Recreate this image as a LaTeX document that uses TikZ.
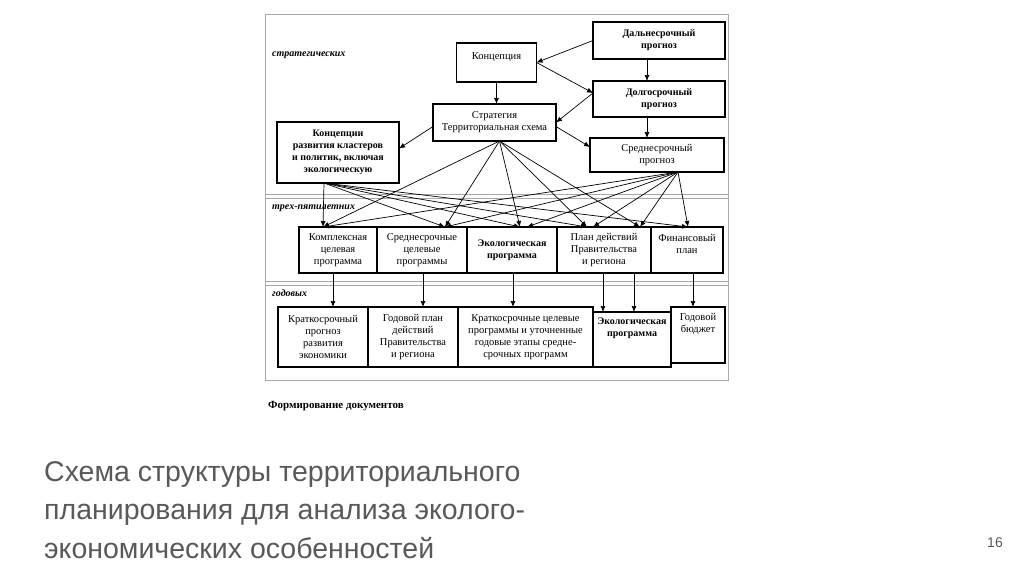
\documentclass[tikz,border=0pt]{standalone}
\usepackage{fontspec}
\setmainfont{Liberation Serif}
\newfontfamily\slidefont{Liberation Sans}
\usetikzlibrary{arrows.meta, positioning}
\definecolor{framegray}{HTML}{A8A8A8}
\definecolor{titlegray}{HTML}{595959}
\tikzset{
  box/.style={
    rectangle, draw, line width=1.2pt, outer sep=0pt, inner sep=1pt,
    align=center, font=\fontsize{10.5}{12}\selectfont
  },
  bbox/.style={
    box, font=\fontsize{10}{12}\selectfont\bfseries
  },
  arr/.style={-{Latex[length=6pt,width=5pt]}, line width=0.7pt},
  tierlabel/.style={
    anchor=west, inner sep=0pt,
    font=\fontsize{10}{11}\selectfont\bfseries\itshape
  }
}

\begin{document}
\begin{tikzpicture}[x=1pt, y=-1pt]
  \useasboundingbox (0,0) rectangle (1024,574);
  % frame and tiers
  \draw[framegray, line width=0.8pt] (265,14) rectangle (728,380);
  \foreach \y in {194,198,281,285}
    \draw[framegray, line width=0.8pt] (265,\y) -- (728,\y);
  \node[tierlabel] (lstrat) at (272,55) {стратегических};
  \node[tierlabel] (lmid) at (272,208) {трех-пятилетних};
  \node[tierlabel] (lyear) at (272,293) {годовых};

  % strategic tier
  \node[box, minimum width=80pt, minimum height=39pt] (konc)
    at (496.5,62.5) {Концепция\\\mbox{}};
  \node[bbox, minimum width=132pt, minimum height=37pt] (dal)
    at (659,40.5) {Дальнесрочный\\прогноз};
  \node[bbox, minimum width=132pt, minimum height=36pt,
        below=22pt of dal] (dolg) {Долгосрочный\\прогноз};
  \node[box, minimum width=123pt, minimum height=37pt] (strat)
    at (494.5,122.5) {Стратегия\\Территориальная схема};
  \node[box, minimum width=134pt, minimum height=34pt] (sred)
    at (657,155) {Среднесрочный\\прогноз};
  \node[bbox, minimum width=122pt, minimum height=61pt] (klast)
    at (338,152.5) {Концепции\\развития кластеров\\и политик, включая\\экологическую};

  % three-five year tier
  \node[box, minimum width=78pt, minimum height=46pt] (kompl)
    at (338,250) {Комплексная\\целевая\\программа};
  \node[box, minimum width=90pt, minimum height=46pt,
        right=0pt of kompl] (srcel) {Среднесрочные\\целевые\\программы};
  \node[bbox, minimum width=90pt, minimum height=46pt,
        right=0pt of srcel] (ekop) {Экологическая\\программа};
  \node[box, minimum width=94pt, minimum height=46pt,
        right=0pt of ekop] (plan) {План действий\\Правительства\\и региона};
  \node[box, minimum width=72pt, minimum height=46pt,
        right=0pt of plan] (fin) {Финансовый\\план\\\mbox{}};

  % annual tier
  \node[box, minimum width=90pt, minimum height=60pt] (kprog)
    at (323,337) {Краткосрочный\\прогноз\\развития\\экономики};
  \node[box, minimum width=90pt, minimum height=60pt,
        right=0pt of kprog] (gplan) {Годовой план\\действий\\Правительства\\и региона};
  \node[box, minimum width=135pt, minimum height=60pt,
        right=0pt of gplan] (kcel)
    {Краткосрочные целевые\\программы и уточненные\\годовые этапы средне-\\срочных программ};
  \node[bbox, minimum width=78pt, minimum height=55pt, anchor=north west] (ekol)
    at ([yshift=-5pt]kcel.north east) {Экологическая\\программа\\\mbox{}\\\mbox{}};
  \node[box, minimum width=54pt, minimum height=56pt, anchor=north west] (gbud)
    at (kcel.north east -| ekol.east) {Годовой\\бюджет\\\mbox{}\\\mbox{}};

  \node[anchor=west, inner sep=0pt, font=\fontsize{11}{13}\selectfont\bfseries]
    (formdoc) at (268,406) {Формирование документов};

  % strategic links
  \draw[arr] (dal.west) -- (konc.east);
  \draw[arr] ([xshift=-12pt]dal.south) -- ([xshift=-12pt]dolg.north);
  \draw[arr] (konc.east) -- ([yshift=6pt]dolg.west);
  \draw[arr] (konc.south) -- (konc.south |- strat.north);
  \draw[arr] ([yshift=6pt]dolg.west) -- (strat.east);
  \draw[arr] ([xshift=-12pt]dolg.south) -- ([xshift=-10pt]sred.north);
  \draw[arr] ([yshift=-4pt]strat.west) -- ([yshift=4pt]klast.east);
  \draw[arr] ([yshift=-4pt]strat.east) -- ([yshift=8pt]sred.west);

  % fan into the three-five year tier
  \coordinate (kS) at ([xshift=-14pt]klast.south);
  \coordinate (sS) at ([xshift=5pt]strat.south);
  \coordinate (mS) at ([xshift=21pt]sred.south);
  \coordinate (tK) at ([xshift=-15pt]kompl.north);
  \coordinate (tS) at ([xshift=23pt]srcel.north);
  \coordinate (tE1) at ([xshift=8pt]ekop.north);
  \coordinate (tE2) at ([xshift=15pt]ekop.north);
  \coordinate (tP1) at ([xshift=-17pt]plan.north);
  \coordinate (tP2) at ([xshift=-11pt]plan.north);
  \coordinate (tP3) at ([xshift=36pt]plan.north);
  \coordinate (tF) at ([xshift=1pt]fin.north);
  \foreach \t in {tK,tS,tE1,tP1,tF}
    \draw[arr] (kS) -- (\t);
  \foreach \t in {tK,tS,tE1,tP1,tP3}
    \draw[arr] (sS) -- (\t);
  \foreach \t in {tK,tS,tE2,tP2,tP3,tF}
    \draw[arr] (mS) -- (\t);

  % into the annual tier
  \foreach \s/\t/\dx in {kompl/kprog/-5, srcel/gplan/1, ekop/kcel/1,
                         plan/ekol/-1, plan/ekol/30, fin/gbud/6}{
    \coordinate (b) at ([xshift=\dx pt]\s.south);
    \draw[arr] (b) -- (b |- \t.north);
  }

  % slide caption
  \node[anchor=north west, inner sep=0pt, align=left, text=titlegray,
        font=\slidefont\fontsize{28.5}{38.5}\selectfont] (title) at (44,461)
    {Схема структуры территориального\\планирования для анализа эколого-\\экономических особенностей};
  \node[text=titlegray, font=\slidefont\fontsize{14}{16}\selectfont] (pnum)
    at (995,543) {16};
\end{tikzpicture}
\end{document}
